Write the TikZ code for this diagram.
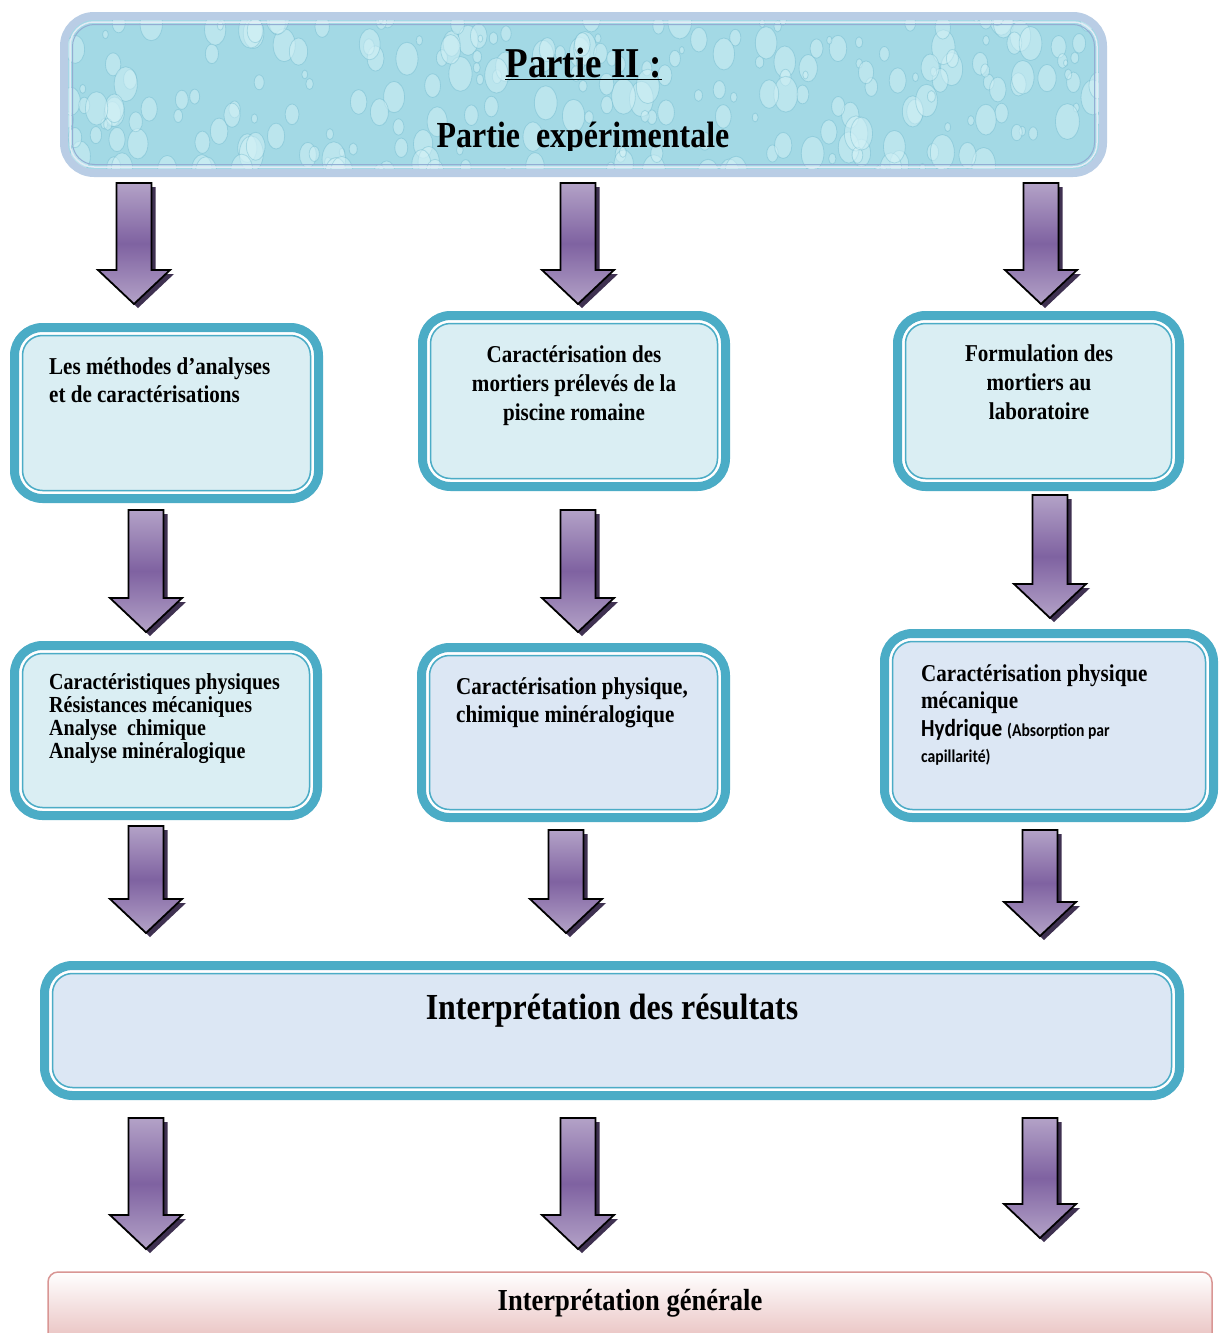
\documentclass[tikz,border=0pt]{standalone}
\usepackage{fontspec}
\setmainfont[FakeStretch=0.87]{Liberation Serif}
\newfontfamily\calib[FakeStretch=0.87]{Carlito}
\definecolor{boxteal}{HTML}{4BACC6}
\definecolor{boxfill}{HTML}{DAEEF3}
\definecolor{mottle}{HTML}{DCE7F4}
\definecolor{topband}{HTML}{B9CDE5}
\definecolor{topline}{HTML}{93ADD3}
\definecolor{topfill}{HTML}{A3D9E5}
\definecolor{dropfill}{HTML}{D3F1F6}
\definecolor{dropedge}{HTML}{5FAFC6}
\definecolor{arrlight}{HTML}{B3A2C7}
\definecolor{arrdark}{HTML}{7F62A1}
\definecolor{arrshadow}{HTML}{3F3151}
\definecolor{pinkb}{HTML}{D99694}
\definecolor{pinkf}{HTML}{E6B9B8}
\newcommand\fsz[2]{\fontsize{#1}{#2}\selectfont}
% box with thick band, white line and thin inner line
\newcommand\cbox[7]{%
  \path[draw=#7, line width=9pt, fill=#6, rounded corners=28pt] (#2+4.5,#3+4.5) rectangle (#4-4.5,#5-4.5);
  \draw[white, line width=2.5pt, rounded corners=22pt] (#2+10.5,#3+10.5) rectangle (#4-10.5,#5-10.5);
  \draw[#7, line width=1.5pt, rounded corners=20pt] (#2+12.5,#3+12.5) rectangle (#4-12.5,#5-12.5);
  \coordinate (#1) at ({(#2+#4)/2},{(#3+#5)/2});
}
% downward block arrow: name, centre x, top y, tip y
\newcommand\darrow[4]{%
  \fill[arrshadow, shift={(4,4)}] ({#2-17.5},#3) -- ({#2+17.5},#3) -- ({#2+17.5},{#4-34}) -- ({#2+36},{#4-34}) -- (#2,#4) -- ({#2-36},{#4-34}) -- ({#2-17.5},{#4-34}) -- cycle;
  \draw[black, line width=1.8pt, line join=miter, top color=arrlight, bottom color=arrlight, middle color=arrdark] ({#2-17.5},#3) -- ({#2+17.5},#3) -- ({#2+17.5},{#4-34}) -- ({#2+36},{#4-34}) -- (#2,#4) -- ({#2-36},{#4-34}) -- ({#2-17.5},{#4-34}) -- cycle;
  \coordinate (#1) at (#2,#3);
}
\begin{document}
\begin{tikzpicture}[x=1pt,y=-1pt,
  txt/.style={inner sep=0pt, text=black}]
\useasboundingbox (0,0) rectangle (1218,1333);
\fill[white] (0,0) rectangle (1218,1333);

% ---- top box (water texture)
\fill[topfill, rounded corners=30pt] (64,16) rectangle (1103,173);
\begin{scope}
  \clip[rounded corners=30pt] (64,16) rectangle (1103,173);
  \pgfmathsetseed{12}
  \foreach \i in {1,...,260}{
    \pgfmathsetmacro\px{64+rnd*1040}
    \pgfmathsetmacro\py{14+rnd*165}
    \pgfmathsetmacro\rr{2+rnd*10}
    \fill[dropfill, fill opacity=.5] (\px,\py) ellipse ({\rr pt} and {1.5*\rr pt});
    \draw[dropedge, opacity=.35, line width=.8pt] (\px,\py) ellipse ({\rr pt} and {1.5*\rr pt});
  }
\end{scope}
\draw[topband, line width=8pt, rounded corners=30pt] (64,16) rectangle (1103,173);
\draw[white!60!topband, line width=1.5pt, rounded corners=24pt] (70,22) rectangle (1097,167);
\draw[topline, line width=1pt, rounded corners=22pt] (72.5,24.5) rectangle (1094.5,164.5);
\coordinate (top) at (583,94);

\node[txt, anchor=base, font=\bfseries\fsz{42.5}{48}] (p2) at (583.5,77) {\underline{Partie II :}};
\begin{scope}
  \clip (0,0) rectangle (1218,150);
  \node[txt, anchor=base, font=\bfseries\fsz{36.7}{40}] (pe) at (583,147) {Partie\ \ expérimentale};
\end{scope}

% ---- boxes
\cbox{b1}{10}{323}{323}{503}{boxfill}{boxteal}
\cbox{b2}{418}{311}{730}{491}{boxfill}{boxteal}
\cbox{b3}{893}{311}{1184}{491}{boxfill}{boxteal}
\cbox{b4}{10}{641}{322}{820}{boxfill}{boxteal}
\cbox{b5}{417}{643}{730}{822}{mottle}{boxteal}
\cbox{b6}{880}{629}{1218}{822}{mottle}{boxteal}
\cbox{b7}{40}{961}{1184}{1100}{mottle}{boxteal}

\draw[pinkb, line width=1.5pt, rounded corners=10pt, top color=white, bottom color=pinkf] (48,1272) rectangle (1212,1350);
\coordinate (b8) at (630,1300);

% ---- texts
\node[txt, anchor=north west, align=left, font=\bfseries\fsz{24.2}{28}] (t1) at (49,357)
  {Les méthodes d’analyses\\et de caractérisations};
\node[txt, anchor=north, align=center, font=\bfseries\fsz{24.2}{29}] (t2) at (574,345)
  {Caractérisation des\\mortiers prélevés de la\\piscine romaine};
\node[txt, anchor=north, align=center, font=\bfseries\fsz{24.2}{29}] (t3) at (1039,345)
  {Formulation des\\mortiers au\\laboratoire};
\node[txt, anchor=north west, align=left, font=\bfseries\fsz{23}{23}] (t4) at (49,673)
  {Caractéristiques physiques\\Résistances mécaniques\\Analyse\ \ chimique\\Analyse minéralogique};
\node[txt, anchor=north west, align=left, font=\bfseries\fsz{24.2}{28}] (t5) at (456,677)
  {Caractérisation physique,\\chimique minéralogique};
\node[txt, anchor=base west, font=\bfseries\fsz{24.2}{28}] (t6a) at (921,681) {Caractérisation physique};
\node[txt, anchor=base west, font=\bfseries\fsz{24.2}{28}] (t6b) at (921,708) {mécanique};
\node[txt, anchor=base west, font=\calib\bfseries\fsz{24.5}{28}] (t6c) at (921,736) {Hydrique {\fsz{18}{22}(Absorption par}};
\node[txt, anchor=base west, font=\calib\bfseries\fsz{18}{22}] (t6d) at (921,762) {capillarité)};
\node[txt, anchor=base, font=\bfseries\fsz{36.7}{40}] (t7) at (612,1019) {Interprétation des résultats};
\node[txt, anchor=base, font=\bfseries\fsz{30.5}{34}] (t8) at (630,1310) {Interprétation générale};

% ---- arrows
\darrow{a11}{134}{183}{304}
\darrow{a12}{578}{183}{304}
\darrow{a13}{1041}{183}{304}
\darrow{a21}{146}{510}{632}
\darrow{a22}{578}{510}{632}
\darrow{a23}{1050}{495}{618}
\darrow{a31}{146}{826}{933}
\darrow{a32}{566}{830}{933}
\darrow{a33}{1040}{830}{936}
\darrow{a41}{146}{1118}{1249}
\darrow{a42}{578}{1118}{1249}
\darrow{a43}{1040}{1118}{1238}
\end{tikzpicture}
\end{document}
